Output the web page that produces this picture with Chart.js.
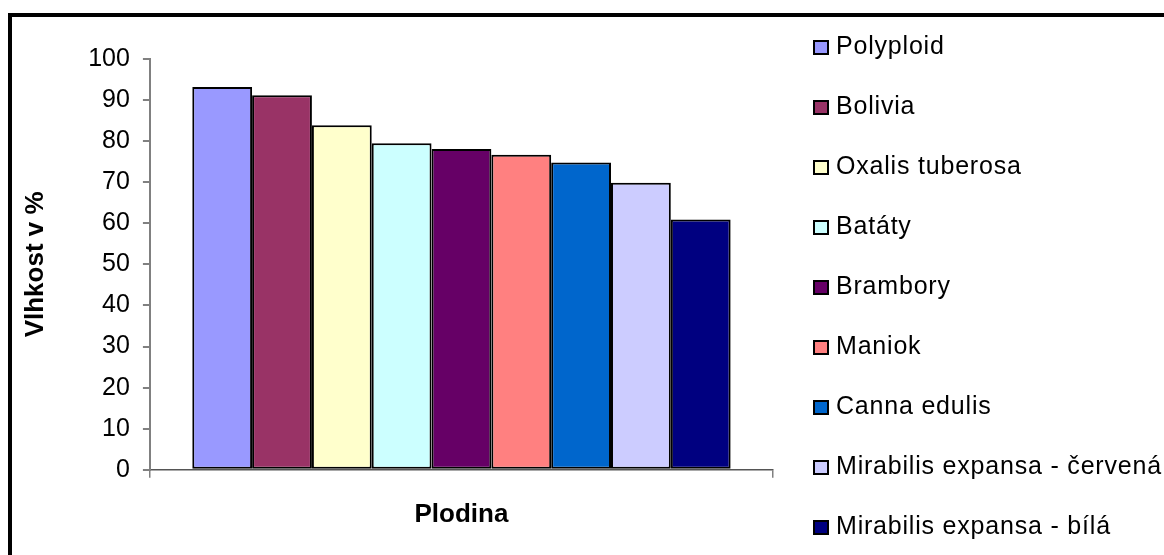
<!DOCTYPE html>
<html lang="cs">
<head>
<meta charset="utf-8">
<title>Vlhkost plodin</title>
<script src="https://cdn.jsdelivr.net/npm/chart.js@4/dist/chart.umd.min.js"></script>
<style>
    html, body {
        margin: 0;
        padding: 0;
        width: 1164px;
        height: 555px;
        overflow: hidden;
        background: #fff;
    }
    #ramecek {
        position: absolute;
        left: 8px;
        top: 13px;
        width: 1200px;
        height: 600px;
        border: 4px solid #000;
    }
    #graf {
        position: absolute;
        left: 0;
        top: 0;
    }
    #legenda {
        position: absolute;
        left: 813px;
        top: 33px;
        margin: 0;
        padding: 0;
        list-style: none;
        font-family: "Liberation Sans", Arial, sans-serif;
        font-size: 25px;
        letter-spacing: 0.8px;
        color: #000;
    }
    #legenda li {
        display: flex;
        align-items: center;
        height: 25px;
        margin-bottom: 35px;
        white-space: nowrap;
    }
    #legenda .ctverec {
        display: inline-block;
        box-sizing: border-box;
        width: 16px;
        height: 15px;
        border: 2px solid #000;
        margin-right: 7px;
        position: relative;
        top: 2px;
    }
</style>
</head>
<body>
<div id="ramecek"></div>
<canvas id="graf" width="1164" height="555"></canvas>
<ul id="legenda"></ul>

<script>
// Vlhkost jednotlivých plodin v %
const plodiny = [
    'Polyploid',
    'Bolivia',
    'Oxalis tuberosa',
    'Batáty',
    'Brambory',
    'Maniok',
    'Canna edulis',
    'Mirabilis expansa - červená',
    'Mirabilis expansa - bílá'
];
const vlhkost = [93.2, 91.2, 83.9, 79.5, 78.1, 76.7, 74.8, 69.9, 60.9];
const barvy = [
    '#9999FF',
    '#993366',
    '#FFFFCC',
    '#CCFFFF',
    '#660066',
    '#FF8080',
    '#0066CC',
    '#CCCCFF',
    '#000080'
];
const kategorie = [''];

Chart.defaults.font.family = '"Liberation Sans", Arial, sans-serif';
Chart.defaults.color = '#000';

// Legenda jako HTML seznam vedle grafu
const htmlLegenda = {
    id: 'htmlLegenda',
    afterUpdate(chart) {
        const ul = document.getElementById('legenda');
        ul.innerHTML = '';
        const polozky = chart.options.plugins.legend.labels.generateLabels(chart);
        polozky.forEach(item => {
            const li = document.createElement('li');
            const box = document.createElement('span');
            box.className = 'ctverec';
            box.style.background = item.fillStyle;
            const text = document.createElement('span');
            text.textContent = item.text;
            li.appendChild(box);
            li.appendChild(text);
            ul.appendChild(li);
        });
    }
};

const datasets = plodiny.map((nazev, i) => ({
    label: nazev,
    data: [vlhkost[i]],
    backgroundColor: barvy[i],
    borderColor: '#000',
    borderWidth: 2,
    borderSkipped: false,
    inflateAmount: 0,
    categoryPercentage: 0.864,
    barPercentage: 1
}));

const ctx = document.getElementById('graf').getContext('2d');
new Chart(ctx, {
    type: 'bar',
    data: {
        labels: kategorie,
        datasets: datasets
    },
    options: {
        responsive: false,
        animation: false,
        layout: {
            padding: {left: 12, top: 59, right: 391, bottom: 5}
        },
        scales: {
            x: {
                ticks: {display: false},
                grid: {
                    drawOnChartArea: false,
                    drawTicks: true,
                    tickLength: 8,
                    color: '#808080',
                    lineWidth: 1.5
                },
                border: {color: '#555', width: 1.5},
                title: {
                    display: true,
                    text: 'Plodina',
                    font: {size: 26, weight: 'bold'},
                    padding: {top: 21, bottom: 20}
                }
            },
            y: {
                min: 0,
                max: 100,
                ticks: {
                    stepSize: 10,
                    padding: 13,
                    font: {size: 25}
                },
                grid: {
                    drawOnChartArea: false,
                    drawTicks: true,
                    tickLength: 7,
                    color: '#808080',
                    lineWidth: 2
                },
                border: {color: '#808080', width: 2},
                title: {
                    display: true,
                    text: 'Vlhkost v %',
                    font: {size: 26, weight: 'bold'},
                    padding: {top: 8, bottom: 24}
                }
            }
        },
        plugins: {
            legend: {display: false},
            tooltip: {enabled: false}
        }
    },
    plugins: [htmlLegenda]
});
</script>
</body>
</html>
